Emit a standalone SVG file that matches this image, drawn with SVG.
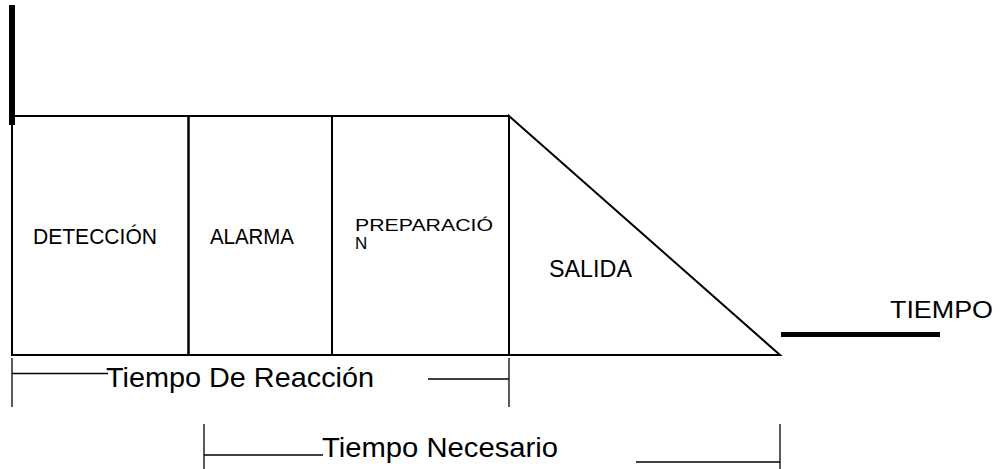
<svg xmlns="http://www.w3.org/2000/svg" width="1000" height="469" viewBox="0 0 1000 469">
<style>
.t{font-family:"Liberation Sans",Arial,sans-serif;fill:#000}
.ln{stroke:#000;stroke-width:2;fill:none}
.thin{stroke:#000;stroke-width:1.3;fill:none}
.thick{stroke:#000;stroke-width:5;fill:none}
</style>
<rect width="1000" height="469" fill="#fff"/>
<g id="axis">
<line class="thick" x1="12" y1="5" x2="12" y2="125" style="stroke-width:6"/>
<line class="thick" x1="781" y1="334.5" x2="940" y2="334.5"/>
<text class="t" x="890" y="318" font-size="24" textLength="103" lengthAdjust="spacingAndGlyphs">TIEMPO</text>
</g>
<g id="deteccion">
<rect class="ln" x="12" y="116" width="176.5" height="239"/>
<text class="t" x="33" y="244" font-size="21.5" textLength="124" lengthAdjust="spacingAndGlyphs">DETECCIÓN</text>
</g>
<g id="alarma">
<rect class="ln" x="188.5" y="116" width="143.5" height="239"/>
<text class="t" x="210" y="244" font-size="21.5" textLength="84" lengthAdjust="spacingAndGlyphs">ALARMA</text>
</g>
<g id="preparacion">
<rect class="ln" x="332" y="116" width="177" height="239"/>
<text class="t" x="355" y="230.5" font-size="17" textLength="138" lengthAdjust="spacingAndGlyphs">PREPARACIÓ</text>
<text class="t" x="355" y="249" font-size="17">N</text>
</g>
<g id="salida">
<path class="ln" d="M509 116 L780 355 L509 355 Z"/>
<text class="t" x="549" y="276.5" font-size="23" textLength="83" lengthAdjust="spacingAndGlyphs">SALIDA</text>
</g>
<g id="connectors">
<line class="thin" x1="12" y1="358" x2="12" y2="407"/>
<line class="thin" x1="12" y1="373.5" x2="108" y2="373.5"/>
<line class="thin" x1="428" y1="379" x2="509" y2="379"/>
<line class="thin" x1="509" y1="358" x2="509" y2="407"/>
<line class="thin" x1="204" y1="424" x2="204" y2="469"/>
<line class="thin" x1="204" y1="455" x2="323" y2="455"/>
<line class="thin" x1="636" y1="462" x2="780" y2="462"/>
<line class="thin" x1="780" y1="424" x2="780" y2="469"/>
</g>
<g id="labels">
<text class="t" x="106" y="387" font-size="28.5" textLength="268" lengthAdjust="spacingAndGlyphs">Tiempo De Reacción</text>
<text class="t" x="322" y="457" font-size="28" textLength="236" lengthAdjust="spacingAndGlyphs">Tiempo Necesario</text>
</g>
</svg>
